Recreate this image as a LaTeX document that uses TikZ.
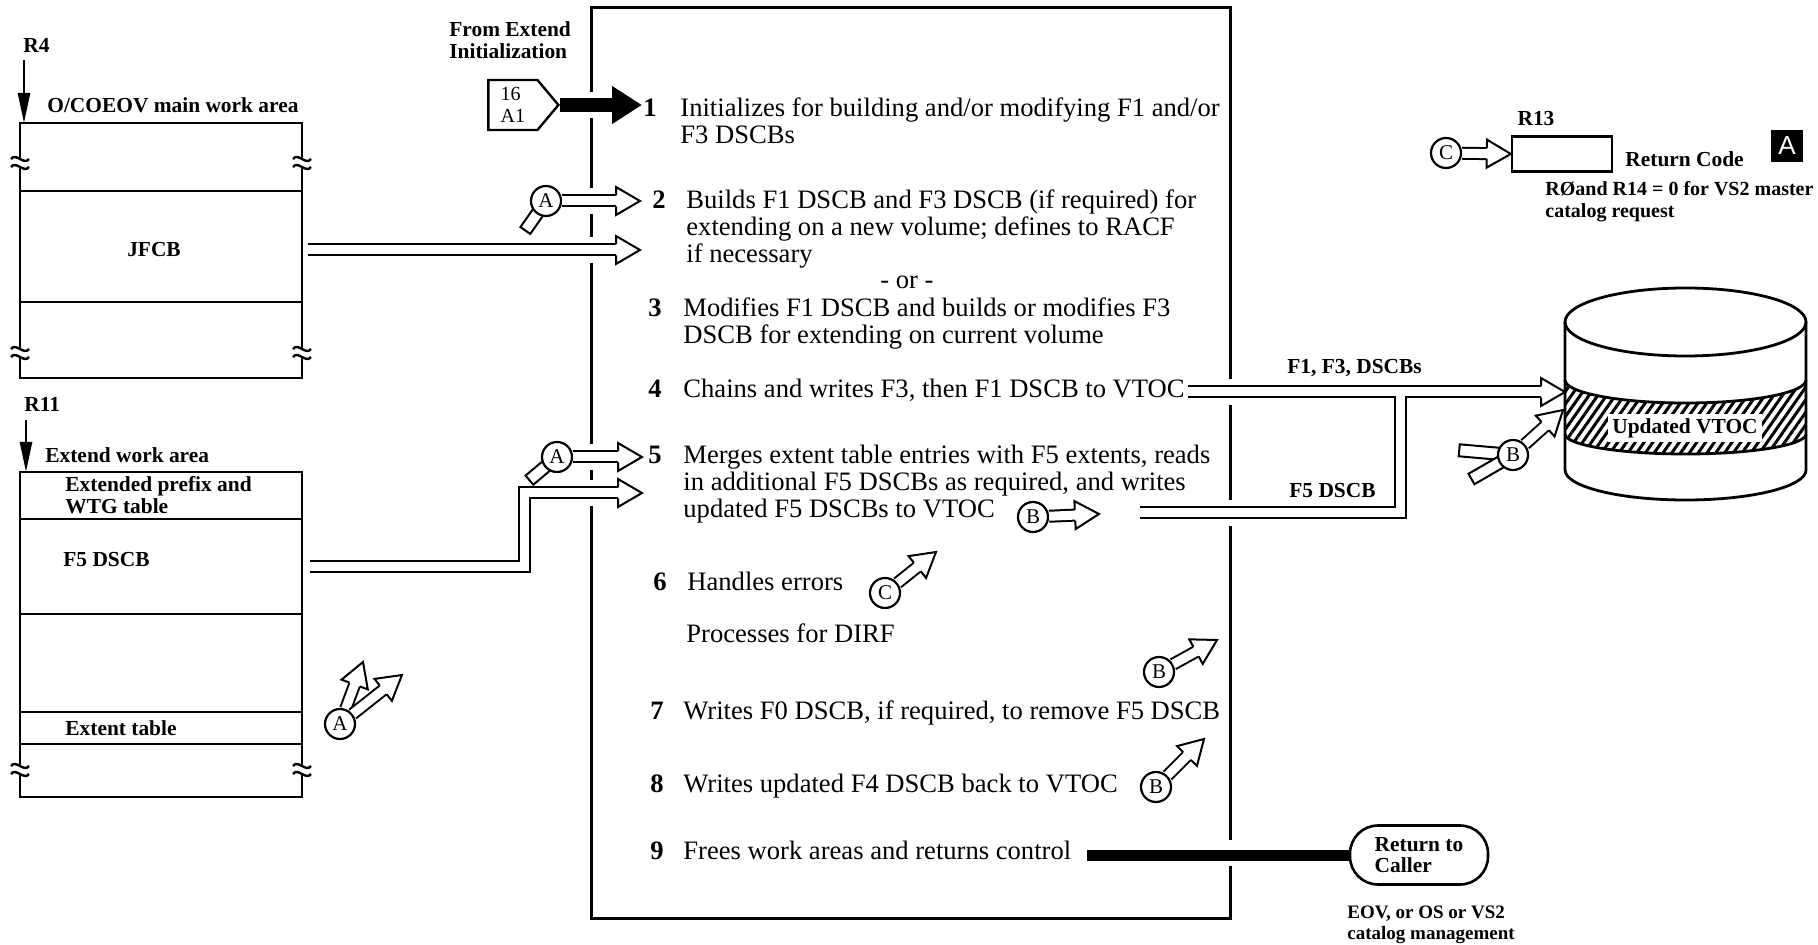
\documentclass[tikz,border=0pt]{standalone}
\usepackage{fontspec}
\setmainfont{Liberation Serif}
\newfontfamily\hvfont{Liberation Sans}
\usepackage{tikz}
\usetikzlibrary{positioning,arrows.meta,calc,shapes.symbols,patterns.meta}

\newcommand\txtfont{\fontsize{13.3}{13.3}\selectfont}
\newcommand\lblfont{\bfseries\fontsize{10.7}{10.7}\selectfont}
% open arrow head sizes
\newcommand\ohl{12pt}
\newcommand\ohw{7pt}
\newcommand\ohg{2.75pt}
% open arrow head at #2, coming from #1
\newcommand\ohead[2]{%
  \path let \p1=($(#2)-(#1)$) in \pgfextra{\pgfmathsetmacro\oang{atan2(\y1,\x1)}\global\let\oangG\oang};
  \filldraw[head, shift={(#2)}, rotate=\oangG] (-\ohl,-\ohg) -- (-\ohl,-\ohw) -- (0pt,0pt) -- (-\ohl,\ohw) -- (-\ohl,\ohg);}
% tail stub of a connector circle
\newcommand\otail[3]{%
  \draw[head, shift={(#1)}, rotate=#2] (0pt,-3pt) -- (#3,-3pt) -- (#3,3pt) -- (0pt,3pt);}

\begin{document}
\begin{tikzpicture}[x=0.5pt, y=-0.5pt,
  box/.style={line width=1.4pt},
  shaft/.style={double, double distance=4.5pt, line width=1pt},
  head/.style={fill=white, line width=1pt},
  conn/.style={circle, draw, line width=1.1pt, fill=white, minimum size=15pt,
               inner sep=0pt, font=\fontsize{10.5}{10.5}\selectfont},
  lbl/.style={font=\lblfont, inner sep=0pt, anchor=base west, align=left},
  txt/.style={font=\txtfont, inner sep=0pt, anchor=base west, align=left},
  num/.style={font=\txtfont\bfseries, inner sep=0pt, anchor=base},
  bigarr/.style={line width=7pt, -{Triangle[length=15pt,width=18pt]}},
  downarr/.style={line width=1.3pt, -{Triangle[length=15pt,width=6pt]}},
  brk/.pic={\draw[line width=1.2pt] (-9,-4) .. controls (-4,-11) and (4,3) .. (9,-4);
            \draw[line width=1.2pt] (-9,4) .. controls (-4,-3) and (4,11) .. (9,4);}]
  \useasboundingbox (0,0) rectangle (1818,945);

  % main work area
  \node[lbl] (r4) at (23,53) {R4};
  \coordinate (r4s) at (24,60);
  \coordinate (r4e) at (24,123);
  \draw[downarr] (r4s) -- (r4e);
  \node[lbl] (mwa) at (47,113) {O/COEOV main work area};
  \draw[box] (20,159) -- (20,123) -- (302,123) -- (302,159);
  \draw[box] (20,167) -- (20,349) (302,167) -- (302,349);
  \draw[box] (20,357) -- (20,378) -- (302,378) -- (302,357);
  \draw[box] (20,191) -- (302,191) (20,302) -- (302,302);
  \pic at (20,163) {brk}; \pic at (302,163) {brk};
  \pic at (20,353) {brk}; \pic at (302,353) {brk};
  \node[font=\lblfont] (jfcb) at (154,250) {JFCB};

  % extend work area
  \node[lbl] (r11) at (24,412) {R11};
  \coordinate (r11s) at (26,420);
  \coordinate (r11e) at (26,472);
  \draw[downarr] (r11s) -- (r11e);
  \node[lbl] (ewa) at (45,463) {Extend work area};
  \draw[box] (20,766) -- (20,472) -- (302,472) -- (302,766);
  \draw[box] (20,774) -- (20,797) -- (302,797) -- (302,774);
  \draw[box] (20,519) -- (302,519) (20,614) -- (302,614)
             (20,712) -- (302,712) (20,744) -- (302,744);
  \pic at (20,770) {brk}; \pic at (302,770) {brk};
  \node[lbl] (pfx) at (65,513.4) {Extended prefix and\\WTG table};
  \node[lbl] (f5d) at (63,567) {F5 DSCB};
  \node[lbl] (ext) at (65,735) {Extent table};

  % process box
  \node[draw, line width=1.5pt, minimum width=319.5pt, minimum height=455pt, inner sep=0pt] (proc) at (910.5,463) {};
  \foreach \gy in {105,201,250,457,493} \draw[white, line width=3pt] (591,\gy-13) -- (591,\gy+13);
  \foreach \gy in {392,513,853} \draw[white, line width=3pt] (1230,\gy-13) -- (1230,\gy+13);

  \node[lbl] (fromx) at (449,58.4) {From Extend\\Initialization};
  \node[draw, signal, signal to=east, signal pointer angle=100, line width=1.2pt,
        minimum width=35pt, minimum height=25pt, inner sep=1pt, align=left,
        font=\fontsize{10}{11}\selectfont, anchor=east] (opc) at (560,105) {16\\A1};
  \coordinate (t1) at (642,105);
  \draw[bigarr] (opc.east) -- (t1);

  \node[num] (n1) at (650,117) {1};
  \node[txt] (s1) at (680,143.6) {Initializes for building and/or modifying F1 and/or\\F3 DSCBs};
  \node[num] (n2) at (659,209) {2};
  \node[txt] (s2) at (686,262.2) {Builds F1 DSCB and F3 DSCB (if required) for\\extending on a new volume; defines to RACF\\if necessary};
  \node[font=\txtfont, inner sep=0pt, anchor=base] (or) at (907,289) {- or -};
  \node[num] (n3) at (655,317) {3};
  \node[txt] (s3) at (683,343.6) {Modifies F1 DSCB and builds or modifies F3\\DSCB for extending on current volume};
  \node[num] (n4) at (655,398) {4};
  \node[txt] (s4) at (683,398) {Chains and writes F3, then F1 DSCB to VTOC};
  \node[num] (n5) at (655,464) {5};
  \node[txt] (s5) at (683,517.2) {Merges extent table entries with F5 extents, reads\\in additional F5 DSCBs as required, and writes\\updated F5 DSCBs to VTOC};
  \node[num] (n6) at (660,590) {6};
  \node[txt] (s6) at (687,590) {Handles errors};
  \node[txt] (dirf) at (686,642) {Processes for DIRF};
  \node[num] (n7) at (657,719) {7};
  \node[txt] (s7) at (683,719) {Writes F0 DSCB, if required, to remove F5 DSCB};
  \node[num] (n8) at (657,792) {8};
  \node[txt] (s8) at (683,792) {Writes updated F4 DSCB back to VTOC};
  \node[num] (n9) at (657,859) {9};
  \node[txt] (s9) at (683,859) {Frees work areas and returns control};

  % inputs
  \coordinate (ca2) at (546,201);
  \otail{ca2}{235}{18pt}
  \node[conn] (a2) at (ca2) {A};
  \coordinate (t2) at (640,201);
  \draw[shaft] (a2) -- ($(t2)!\ohl!(a2)$);
  \ohead{a2}{t2}
  \coordinate (jfs) at (308,250);
  \coordinate (tjf) at (640,250);
  \draw[shaft] (jfs) -- ($(tjf)!\ohl!(jfs)$);
  \ohead{jfs}{tjf}
  \coordinate (ca5) at (557,457);
  \otail{ca5}{220}{18pt}
  \node[conn] (a5) at (ca5) {A};
  \coordinate (t5) at (642,457);
  \draw[shaft] (a5) -- ($(t5)!\ohl!(a5)$);
  \ohead{a5}{t5}
  \coordinate (f5s) at (310,567);
  \coordinate (f5c) at (524,493);
  \coordinate (tf5) at (642,493);
  \draw[shaft] (f5s) -| (f5c) -- ($(tf5)!\ohl!(f5c)$);
  \ohead{f5c}{tf5}

  \node[conn] (ax) at (340,724) {A};
  \coordinate (tax1) at (363,662);
  \coordinate (tax2) at (402,675);
  \draw[shaft] (ax) -- ($(tax1)!\ohl!(ax)$);
  \ohead{ax}{tax1}
  \draw[shaft] (ax) -- ($(tax2)!\ohl!(ax)$);
  \ohead{ax}{tax2}

  % B and C connectors in the box
  \node[conn] (b5) at (1033,517) {B};
  \coordinate (tb5) at (1099,514);
  \draw[shaft] (b5) -- ($(tb5)!\ohl!(b5)$);
  \ohead{b5}{tb5}
  \node[conn] (c6) at (885,593) {C};
  \coordinate (tc6) at (936,552);
  \draw[shaft] (c6) -- ($(tc6)!\ohl!(c6)$);
  \ohead{c6}{tc6}
  \node[conn] (b6) at (1159,672) {B};
  \coordinate (tb6) at (1217,640);
  \draw[shaft] (b6) -- ($(tb6)!\ohl!(b6)$);
  \ohead{b6}{tb6}
  \node[conn] (b8) at (1156,787) {B};
  \coordinate (tb8) at (1204,739);
  \draw[shaft] (b8) -- ($(tb8)!\ohl!(b8)$);
  \ohead{b8}{tb8}

  % DSCBs to the VTOC
  \coordinate (i4s) at (1188,392);
  \coordinate (jn) at (1400,392);
  \coordinate (tcyl) at (1565,392);
  \coordinate (f5o) at (1140,513);
  \draw[line width=6.5pt] (i4s) -- ($(tcyl)!\ohl!(jn)$);
  \draw[line width=6.5pt] (f5o) -| (jn);
  \draw[white, line width=4.5pt] (i4s) -- ($(tcyl)!\ohl!(jn)$);
  \draw[white, line width=4.5pt] (f5o) -| (jn);
  \ohead{jn}{tcyl}
  \node[lbl] (f13) at (1287,374) {F1, F3, DSCBs};
  \node[lbl] (f5l) at (1289,498) {F5 DSCB};

  % VTOC volume
  \coordinate (cyl) at (1685.5,322);
  \fill[pattern={Lines[angle=55,distance=3.6pt,line width=1.5pt]}]
    (1565,380) arc[start angle=180, end angle=360, x radius=60.25pt, y radius=11.5pt]
    -- (1806,434) arc[start angle=0, end angle=-180, x radius=60.25pt, y radius=10pt] -- cycle;
  \draw[box] (1565,380) arc[start angle=180, end angle=360, x radius=60.25pt, y radius=11.5pt];
  \draw[box] (1565,434) arc[start angle=180, end angle=360, x radius=60.25pt, y radius=10pt];
  \draw[box] (1565,322) -- (1565,470) arc[start angle=180, end angle=360, x radius=60.25pt, y radius=15pt] -- (1806,322);
  \draw[box] (cyl) ellipse[x radius=60.25pt, y radius=17pt];
  \node[font=\lblfont, fill=white, inner sep=2pt] (vtoc) at (1685,428) {Updated VTOC};

  \coordinate (cbc) at (1513,455);
  \otail{cbc}{175}{27pt}
  \otail{cbc}{210}{24pt}
  \node[conn] (bc) at (cbc) {B};
  \coordinate (tbc) at (1563,410);
  \draw[shaft] (bc) -- ($(tbc)!\ohl!(bc)$);
  \ohead{bc}{tbc}

  % return code
  \node[conn] (cr) at (1446,153) {C};
  \node[draw, line width=1.2pt, minimum width=50pt, minimum height=17.5pt, inner sep=0pt] (r13) at (1562,154) {};
  \draw[shaft] (cr) -- ($(r13.west)!\ohl!(cr)$);
  \ohead{cr}{r13.west}
  \node[lbl, anchor=base] (r13l) at (1536,126) {R13};
  \node[lbl] (rc) at (1625,167) {Return Code};
  \node[lbl, font=\bfseries\fontsize{10}{11}\selectfont] (r0) at (1545,218) {RØand R14 = 0 for VS2 master\\catalog request};
  \node[fill=black, text=white, font=\hvfont\fontsize{13}{13}\selectfont,
        minimum width=16pt, minimum height=16pt, inner sep=0pt] (tagA) at (1787,146) {A};

  % return
  \node[draw, line width=1.3pt, rounded corners=14pt, minimum width=69pt, minimum height=29.5pt,
        align=left, font=\lblfont] (ret) at (1419,855) {Return to\\Caller};
  \coordinate (r9s) at (1087,855);
  \draw[line width=5.5pt] (r9s) -- (ret.west);
  \node[lbl, font=\bfseries\fontsize{9.5}{10.5}\selectfont] (eov) at (1347,939) {EOV, or OS or VS2\\catalog management};
\end{tikzpicture}
\end{document}
